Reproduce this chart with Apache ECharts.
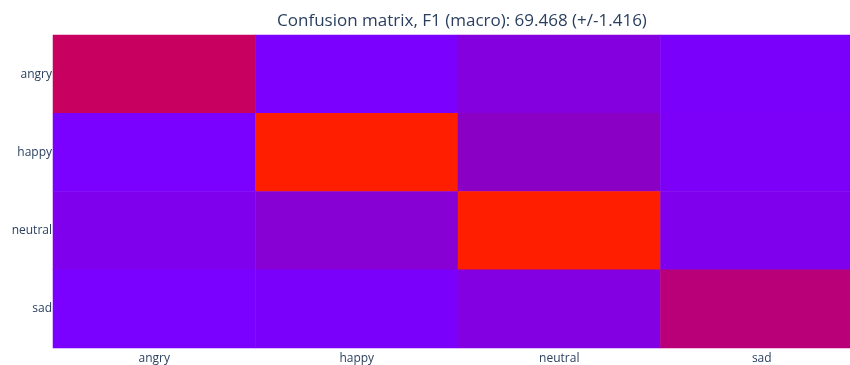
<!DOCTYPE html>
<html>
<head>
<meta charset="utf-8">
<script src="https://cdn.jsdelivr.net/npm/echarts@6/dist/echarts.min.js"></script>
<style>html,body{margin:0;padding:0;background:#fff;overflow:hidden;}#c{width:850px;height:365px;}</style>
</head>
<body>
<div id="c"></div>
<script>
const titleText = "Confusion matrix, F1 (macro): 69.468 (+/-1.416)";
const xLabels = ["angry", "happy", "neutral", "sad"];
const yLabels = ["angry", "happy", "neutral", "sad"];
// rows = true label (y), columns = predicted (x)
const rowAngry   = [0.667, 0.01, 0.18, 0.02];
const rowHappy   = [0.00, 1.00, 0.32, 0.04];
const rowNeutral = [0.10, 0.24, 1.00, 0.10];
const rowSad     = [0.00, 0.02, 0.16, 0.585];
const colorStops = ["#7a00ff", "#8c00c3", "#c8005f", "#ff1e00"];

const rows = [rowAngry, rowHappy, rowNeutral, rowSad];
const data = [];
rows.forEach((r, yi) => r.forEach((v, xi) => data.push([xi, yi, v])));

const chart = echarts.init(document.getElementById('c'), null, {renderer: 'canvas'});
const font = "'Open Sans', 'Noto Sans', sans-serif";
const textColor = '#2a3f5f';
chart.setOption({
  animation: false,
  backgroundColor: '#fff',
  title: {
    text: titleText,
    left: 457, top: 8, textAlign: 'center',
    textStyle: {fontFamily: font, fontSize: 17, fontWeight: 'normal', color: textColor}
  },
  grid: {left: 53, top: 35, width: 810, height: 313, containLabel: false, outerBoundsMode: 'none'},
  xAxis: {
    type: 'category', data: xLabels,
    axisLine: {show: false}, axisTick: {show: false}, splitLine: {show: false},
    axisLabel: {fontFamily: font, fontSize: 12, color: textColor, margin: 5}
  },
  yAxis: {
    type: 'category', data: yLabels, inverse: true,
    axisLine: {show: false}, axisTick: {show: false}, splitLine: {show: false},
    axisLabel: {fontFamily: font, fontSize: 12, color: textColor, margin: 1}
  },
  visualMap: {
    show: false, min: 0, max: 1, calculable: false,
    inRange: {color: colorStops}
  },
  series: [{
    type: 'heatmap', data: data,
    itemStyle: {borderWidth: 0},
    emphasis: {disabled: true}
  }]
});
</script>
</body>
</html>
